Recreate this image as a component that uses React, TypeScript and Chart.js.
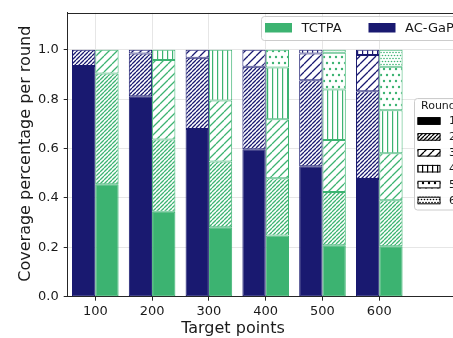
import React, { useEffect, useRef } from 'react';
import { Chart, registerables } from 'chart.js';

Chart.register(...registerables);

// Target-point counts along the x axis
const targetPoints = [100, 200, 300, 400, 500, 600];
const yTickValues = [0, 0.2, 0.4, 0.6, 0.8, 1.0];
const roundLabels = ['1', '2', '3', '4', '5', '6'];

// Share of targets covered in each round, AC-GaP
const acgapRound1 = [0.935, 0.812, 0.679, 0.597, 0.528, 0.477];
const acgapRound2 = [0.065, 0.173, 0.289, 0.334, 0.349, 0.355];
const acgapRound3 = [0, 0.015, 0.032, 0.069, 0.108, 0.147];
const acgapRound4 = [0, 0, 0, 0, 0.015, 0.021];
const acgapRound5 = [0, 0, 0, 0, 0, 0];
const acgapRound6 = [0, 0, 0, 0, 0, 0];

// Share of targets covered in each round, TCTPA
const tctpaRound1 = [0.455, 0.344, 0.281, 0.248, 0.208, 0.204];
const tctpaRound2 = [0.449, 0.293, 0.267, 0.232, 0.216, 0.187];
const tctpaRound3 = [0.096, 0.322, 0.247, 0.239, 0.211, 0.19];
const tctpaRound4 = [0, 0.041, 0.205, 0.209, 0.204, 0.174];
const tctpaRound5 = [0, 0, 0, 0.072, 0.149, 0.176];
const tctpaRound6 = [0, 0, 0, 0, 0.012, 0.069];

const acgapRounds = [acgapRound1, acgapRound2, acgapRound3, acgapRound4, acgapRound5, acgapRound6];
const tctpaRounds = [tctpaRound1, tctpaRound2, tctpaRound3, tctpaRound4, tctpaRound5, tctpaRound6];

const NAVY = '#191970';
const GREEN = '#3cb371';
const TEXT = '#1a1a1a';
const SPINE = '#262626';
const FONT = "'DejaVu Sans', sans-serif";

type Hatch = 'solid' | 'dense' | 'diag' | 'vert' | 'dots' | 'fine';
const roundHatches: Hatch[] = ['solid', 'dense', 'diag', 'vert', 'dots', 'fine'];

function makeFill(hatch: Hatch, color: string): string | CanvasPattern {
  if (hatch === 'solid') return color;
  const c = document.createElement('canvas');
  let w = 4;
  let h = 4;
  if (hatch === 'dense') { w = 4; h = 4; }
  if (hatch === 'diag') { w = 8; h = 8; }
  if (hatch === 'vert') { w = 5; h = 5; }
  if (hatch === 'dots') { w = 6; h = 12; }
  if (hatch === 'fine') { w = 3; h = 6; }
  c.width = w;
  c.height = h;
  const g = c.getContext('2d')!;
  g.fillStyle = '#ffffff';
  g.fillRect(0, 0, w, h);
  g.strokeStyle = color;
  g.fillStyle = color;
  g.lineWidth = 1.3;
  if (hatch === 'dense' || hatch === 'diag') {
    g.beginPath();
    for (let k = -1; k <= 1; k++) {
      g.moveTo(k * w, h);
      g.lineTo(k * w + w, 0);
    }
    g.stroke();
  } else if (hatch === 'vert') {
    g.fillRect(2, 0, 1.2, h);
  } else {
    const r = hatch === 'dots' ? 1.2 : 0.8;
    const pts = [
      [w / 2, h / 4],
      [0, (3 * h) / 4],
      [w, (3 * h) / 4],
    ];
    for (const [px, py] of pts) {
      g.beginPath();
      g.arc(px, py, r, 0, Math.PI * 2);
      g.fill();
    }
  }
  return g.createPattern(c, 'repeat')!;
}

function roundedRect(ctx: CanvasRenderingContext2D, x: number, y: number, w: number, h: number, r: number) {
  ctx.beginPath();
  ctx.moveTo(x + r, y);
  ctx.lineTo(x + w - r, y);
  ctx.arcTo(x + w, y, x + w, y + r, r);
  ctx.lineTo(x + w, y + h - r);
  ctx.arcTo(x + w, y + h, x + w - r, y + h, r);
  ctx.lineTo(x + r, y + h);
  ctx.arcTo(x, y + h, x, y + h - r, r);
  ctx.lineTo(x, y + r);
  ctx.arcTo(x, y, x + r, y, r);
  ctx.closePath();
}

// Axis titles, top spine and the two legends
const decorations = {
  id: 'decorations',
  afterDraw(chart: any) {
    const ctx: CanvasRenderingContext2D = chart.ctx;
    const area = chart.chartArea;
    ctx.save();

    // top spine
    ctx.strokeStyle = SPINE;
    ctx.lineWidth = 1;
    ctx.beginPath();
    ctx.moveTo(area.left, Math.round(area.top) + 0.5);
    ctx.lineTo(area.right, Math.round(area.top) + 0.5);
    ctx.stroke();

    // axis titles
    ctx.fillStyle = TEXT;
    ctx.font = `16px ${FONT}`;
    ctx.textAlign = 'center';
    ctx.textBaseline = 'alphabetic';
    ctx.fillText('Target points', 233, 333);
    ctx.save();
    ctx.translate(30, 153.7);
    ctx.rotate(-Math.PI / 2);
    ctx.fillText('Coverage percentage per round', 0, 0);
    ctx.restore();

    // series legend
    roundedRect(ctx, 261.5, 16.5, 230, 24, 3);
    ctx.fillStyle = 'rgba(255,255,255,0.8)';
    ctx.fill();
    ctx.strokeStyle = '#cccccc';
    ctx.stroke();
    const series = [
      { name: 'TCTPA', color: GREEN, x: 265 },
      { name: 'AC-GaP', color: NAVY, x: 368.5 },
    ];
    ctx.font = `13px ${FONT}`;
    ctx.textAlign = 'left';
    ctx.textBaseline = 'middle';
    for (const s of series) {
      ctx.fillStyle = s.color;
      ctx.fillRect(s.x, 23, 27, 9.5);
      ctx.fillStyle = TEXT;
      ctx.fillText(s.name, s.x + 36.5, 28.5);
    }

    // round legend
    roundedRect(ctx, 414.5, 98.5, 80, 111.5, 3);
    ctx.fillStyle = 'rgba(255,255,255,0.8)';
    ctx.fill();
    ctx.strokeStyle = '#cccccc';
    ctx.stroke();
    ctx.font = `11px ${FONT}`;
    ctx.fillStyle = TEXT;
    ctx.fillText('Round', 421, 106.5);
    roundLabels.forEach((lab, i) => {
      const cy = 121 + i * 15.9;
      ctx.fillStyle = makeFill(roundHatches[i], '#000000') as any;
      ctx.fillRect(417.5, cy - 3.8, 23, 7.6);
      ctx.strokeStyle = '#000000';
      ctx.lineWidth = 1;
      ctx.strokeRect(418, cy - 3.3, 22, 6.6);
      ctx.fillStyle = TEXT;
      ctx.fillText(lab, 449, cy + 0.5);
    });

    ctx.restore();
  },
};

function buildDatasets() {
  const groups = [
    { stack: 'AC-GaP', color: NAVY, rounds: acgapRounds },
    { stack: 'TCTPA', color: GREEN, rounds: tctpaRounds },
  ];
  const out: any[] = [];
  for (const grp of groups) {
    grp.rounds.forEach((vals, r) => {
      out.push({
        label: `${grp.stack} round ${roundLabels[r]}`,
        stack: grp.stack,
        data: targetPoints
          .map((x, i) => ({ x, y: vals[i] }))
          .filter((p) => p.y > 0),
        backgroundColor: makeFill(roundHatches[r], grp.color),
        borderColor: grp.color,
        borderWidth: 1,
        borderSkipped: false,
        barThickness: 23.3,
        inflateAmount: 0,
      });
    });
  }
  return out;
}

export default function App() {
  const canvasRef = useRef<HTMLCanvasElement | null>(null);

  useEffect(() => {
    document.body.style.margin = '0';
    const canvas = canvasRef.current;
    if (!canvas) return;
    Chart.defaults.font.family = FONT;
    const tickFont = { family: FONT, size: 13 };
    const chart = new Chart(canvas, {
      type: 'bar',
      data: { datasets: buildDatasets() },
      options: {
        animation: false,
        responsive: false,
        devicePixelRatio: 1,
        layout: { padding: { top: 10.7, left: 0, right: 0, bottom: 0 } },
        plugins: { legend: { display: false }, tooltip: { enabled: false } },
        scales: {
          x: {
            type: 'linear',
            stacked: true,
            min: 51.4,
            max: 729.8,
            offset: false,
            afterBuildTicks: (s: any) => {
              s.ticks = targetPoints.map((v) => ({ value: v }));
            },
            afterFit: (s: any) => {
              s.height = 41.3;
            },
            ticks: {
              font: tickFont,
              color: TEXT,
              padding: 3,
              maxRotation: 0,
              callback: (v: any) => String(v),
            },
            grid: { offset: false, color: '#e6e6e6', lineWidth: 1, tickColor: SPINE, tickLength: 4 },
            border: { color: SPINE, width: 1 },
          },
          y: {
            stacked: true,
            min: 0,
            max: 1.15,
            afterBuildTicks: (s: any) => {
              s.ticks = yTickValues.map((v) => ({ value: v }));
            },
            afterFit: (s: any) => {
              s.width = 67.7;
            },
            ticks: {
              font: tickFont,
              color: TEXT,
              padding: 5,
              callback: (v: any) => Number(v).toFixed(1),
            },
            grid: { color: '#e6e6e6', lineWidth: 1, tickColor: SPINE, tickLength: 4 },
            border: { color: SPINE, width: 1 },
          },
        },
      } as any,
      plugins: [decorations],
    });
    return () => chart.destroy();
  }, []);

  return <canvas ref={canvasRef} width={453} height={338} style={{ display: 'block' }} />;
}
